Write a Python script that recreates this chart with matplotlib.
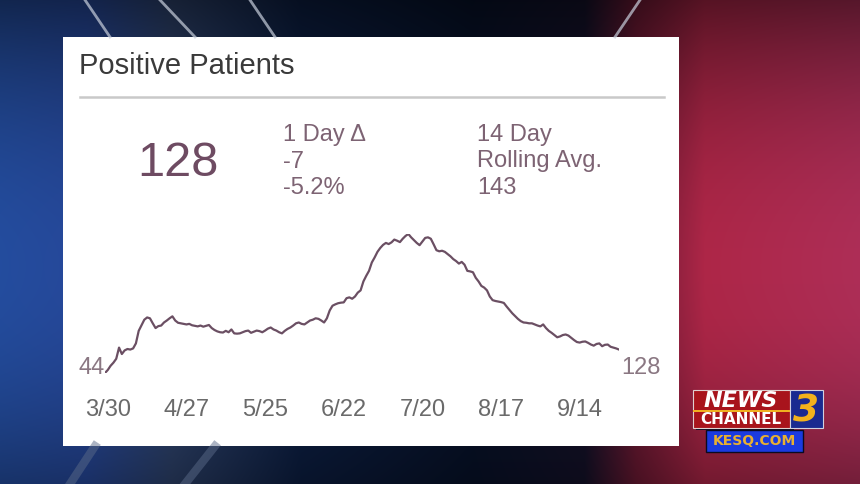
import numpy as np
import pandas as pd
import matplotlib
matplotlib.use('Agg')
import matplotlib.pyplot as plt
import matplotlib.transforms as mtransforms
from matplotlib.patches import Rectangle

# daily positive patients, 3/30 .. 9/29
patients = [
    44, 55, 70, 81, 95, 135, 112, 125, 130, 128, 132, 150, 195, 215,
    235, 243, 240, 222, 205, 212, 214, 225, 232, 240, 247, 232, 224, 222,
    220, 218, 220, 215, 213, 211, 214, 210, 213, 216, 205, 198, 193, 190,
    189, 195, 190, 200, 186, 185, 186, 190, 194, 196, 188, 192, 196, 194,
    190, 196, 203, 207, 200, 196, 190, 186, 195, 202, 207, 214, 222, 225,
    220, 218, 225, 232, 235, 240, 238, 232, 225, 240, 268, 285, 290, 294,
    296, 297, 312, 315, 310, 318, 332, 340, 372, 392, 410, 440, 458, 478,
    492, 503, 510, 506, 512, 522, 518, 513, 525, 535, 542, 530, 520, 510,
    502, 515, 528, 530, 525, 505, 484, 480, 482, 478, 470, 462, 452, 445,
    436, 442, 432, 410, 408, 405, 385, 372, 356, 350, 340, 318, 305, 302,
    300, 298, 295, 282, 270, 258, 248, 238, 230, 225, 224, 222, 222, 218,
    214, 211, 218, 205, 195, 188, 180, 172, 175, 180, 182, 178, 170, 162,
    155, 153, 156, 157, 152, 146, 142, 148, 150, 140, 145, 146, 138, 135,
    132, 128,
]
dates = pd.date_range('2020-03-30', periods=len(patients), freq='D')
tick_dates = dates[::28]
tick_labels = ['3/30', '4/27', '5/25', '6/22', '7/20', '8/17', '9/14']

title = 'Positive Patients'
current = '128'
day_change = ['1 Day \u0394', '-7', '-5.2%']
rolling = ['14 Day', 'Rolling Avg.', '143']

W, H = 860, 484
plt.rcParams['font.family'] = ['Liberation Sans', 'DejaVu Sans']

fig = plt.figure(figsize=(W / 100, H / 100), dpi=100)


def px(x, y):
    return x / W, 1 - y / H


# --- studio background ---
bg = fig.add_axes([0, 0, 1, 1])
xs = np.linspace(0, 1, W)
ys = np.linspace(0, 1, H)
stops_x = [0.0, 0.1, 0.2, 0.35, 0.55, 0.68, 0.74, 0.82, 1.0]
stops_c = np.array([
    [0.14, 0.30, 0.62], [0.15, 0.28, 0.60], [0.18, 0.26, 0.42],
    [0.05, 0.12, 0.26], [0.03, 0.07, 0.16], [0.08, 0.07, 0.16],
    [0.42, 0.10, 0.20], [0.68, 0.15, 0.28], [0.68, 0.18, 0.34],
])
row = np.stack([np.interp(xs, stops_x, stops_c[:, k]) for k in range(3)], axis=1)
img = np.repeat(row[None, :, :], H, axis=0)
shade = 1 - 0.5 * (np.abs(ys - 0.55) / 0.55) ** 2
img = img * shade[:, None, None]
bg.imshow(np.clip(img, 0, 1), extent=[0, W, H, 0], aspect='auto')
for x0, x1 in [(85, 110), (160, 195), (250, 275), (640, 615)]:
    bg.plot([x0, x1], [0, 37], color='#c8cfdc', lw=2, alpha=0.7)
for x0, x1 in [(95, 70), (215, 185)]:
    bg.plot([x0, x1], [446, 484], color='#5a6a88', lw=6, alpha=0.5)
bg.set_xlim(0, W)
bg.set_ylim(H, 0)
bg.axis('off')

# --- white card ---
bg.add_patch(Rectangle((63, 37), 616, 409, facecolor='white', edgecolor='none'))
bg.plot([80, 664], [97, 97], color='#c9c9c9', lw=1.8)

fig.text(*px(79, 66), title, fontsize=21, color='#3a3a3a', va='center', ha='left')
fig.text(*px(178, 163), current, fontsize=35, color='#6e4b62', va='center', ha='center')
for i, s in enumerate(day_change):
    fig.text(*px(283, 135 + i * 26.5), s, fontsize=17, color='#7d6373', va='center', ha='left')
for i, s in enumerate(rolling):
    fig.text(*px(477, 135 + i * 26.5), s, fontsize=17, color='#7d6373', va='center', ha='left')

# --- sparkline ---
left, right, top, bottom = 105, 619, 234, 373
ax = fig.add_axes([left / W, 1 - bottom / H, (right - left) / W, (bottom - top) / H])
ax.plot(dates, patients, color='#6b4f63', lw=1.6, solid_joinstyle='round')
ax.set_xlim(dates[0], dates[-1])
ax.set_ylim(min(patients), max(patients))
ax.set_xticks(tick_dates)
ax.set_xticklabels(tick_labels, fontsize=17, color='#6a6a6a')
ax.tick_params(axis='x', length=0, pad=19)
shift = mtransforms.ScaledTranslation(0.03, 0, fig.dpi_scale_trans)
for lab in ax.get_xticklabels():
    lab.set_transform(lab.get_transform() + shift)
ax.set_yticks([])
for sp in ax.spines.values():
    sp.set_visible(False)
ax.patch.set_alpha(0)

fig.text(*px(105, 368), str(patients[0]), fontsize=17, color='#8a7782', va='center', ha='right')
fig.text(*px(621, 368), str(patients[-1]), fontsize=17, color='#8a7782', va='center', ha='left')

# --- station logo ---
bg.add_patch(Rectangle((696, 392), 98, 38, facecolor='#0b0b20', edgecolor='none'))
bg.add_patch(Rectangle((693, 390), 97, 38, facecolor='#a8141c', edgecolor='#e0d0d0', lw=0.8))
bg.add_patch(Rectangle((693, 410), 97, 2, facecolor='#f0b020', edgecolor='none'))
bg.add_patch(Rectangle((790, 390), 33, 38, facecolor='#1a2a90', edgecolor='#d0d0e0', lw=0.8))
bg.add_patch(Rectangle((706, 430), 97, 22, facecolor='#1a3be0', edgecolor='#0b0b20', lw=1))
bg.text(741, 401, 'NEWS', fontsize=16, fontweight='bold', fontstyle='italic',
        color='white', ha='center', va='center', family='DejaVu Sans')
bg.text(741, 420, 'CHANNEL', fontsize=11, fontweight='bold',
        color='white', ha='center', va='center', family='DejaVu Sans')
bg.text(806, 411, '3', fontsize=27, fontweight='bold', fontstyle='italic',
        color='#f2b21c', ha='center', va='center', family='DejaVu Sans')
bg.text(754, 441, 'KESQ.COM', fontsize=10, fontweight='bold',
        color='#e8b030', ha='center', va='center', family='DejaVu Sans')

fig.savefig('out.png', dpi=100)
